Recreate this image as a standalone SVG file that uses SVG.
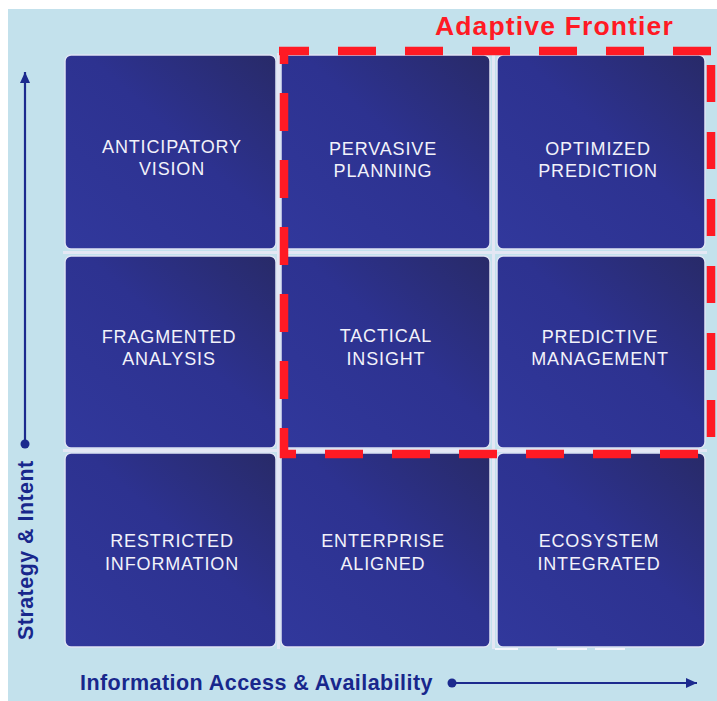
<svg xmlns="http://www.w3.org/2000/svg" width="717" height="701" viewBox="0 0 717 701">
  <defs>
    <linearGradient id="tileFill" x1="0" y1="1" x2="1" y2="0">
      <stop offset="0" stop-color="#31389c"/>
      <stop offset="0.55" stop-color="#2d3290"/>
      <stop offset="1" stop-color="#282a68"/>
    </linearGradient>
    <marker id="arrowHead" viewBox="0 0 11 10" refX="11" refY="5" markerWidth="11" markerHeight="10" markerUnits="userSpaceOnUse" orient="auto">
      <path d="M0,0 L11,5 L0,10 Z" fill="#1c2a8e"/>
    </marker>
  </defs>
  <style>
    .tile { fill: url(#tileFill); stroke: #dfe4f3; stroke-width: 1.5; }
    .label { font-family: "Liberation Sans", Arial, sans-serif; font-size: 18px; fill: #f2f2fa; text-anchor: middle; letter-spacing: 0.85px; }
    .axis-title { font-family: "Liberation Sans", Arial, sans-serif; font-weight: bold; font-size: 21.5px; fill: #18278c; letter-spacing: 0.45px; }
    .frontier-title { font-family: "Liberation Sans", Arial, sans-serif; font-weight: bold; font-size: 26.5px; fill: #ff1a24; letter-spacing: 1.15px; }
    .frontier { fill: none; stroke: #ff1a24; stroke-width: 8.5; stroke-dasharray: 38 29; }
    .gap { stroke: #e4e7f4; stroke-width: 3; }
    .rim { stroke: #f4f6fc; stroke-width: 2; }
    .axis { stroke: #1c2a8e; stroke-width: 2.2; fill: none; }
    .axis-dot { fill: #1c2a8e; }
  </style>

  <!-- page backdrop -->
  <rect x="0" y="0" width="717" height="701" fill="#ffffff"/>
  <rect x="8" y="9" width="709" height="692" fill="#c3e1ec"/>

  <!-- light seams between the tiles -->
  <g id="seams">
    <line class="gap" x1="278.5" y1="53" x2="278.5" y2="649"/>
    <line class="gap" x1="493.5" y1="53" x2="493.5" y2="649"/>
    <line class="gap" x1="63" y1="252.5" x2="707" y2="252.5"/>
    <line class="gap" x1="63" y1="450.5" x2="707" y2="450.5"/>
  </g>

  <!-- row 1 -->
  <g id="anticipatory-vision">
    <rect class="tile" x="65" y="55" width="211" height="194" rx="6"/>
    <text class="label" x="172" y="153">ANTICIPATORY</text>
    <text class="label" x="172" y="175">VISION</text>
  </g>
  <g id="pervasive-planning">
    <rect class="tile" x="281" y="55" width="209" height="194" rx="6"/>
    <text class="label" x="383" y="155">PERVASIVE</text>
    <text class="label" x="383" y="177">PLANNING</text>
  </g>
  <g id="optimized-prediction">
    <rect class="tile" x="497" y="55" width="208" height="194" rx="6"/>
    <text class="label" x="598" y="155">OPTIMIZED</text>
    <text class="label" x="598" y="177">PREDICTION</text>
  </g>

  <!-- row 2 -->
  <g id="fragmented-analysis">
    <rect class="tile" x="65" y="256" width="211" height="192" rx="6"/>
    <text class="label" x="169" y="343">FRAGMENTED</text>
    <text class="label" x="169" y="365">ANALYSIS</text>
  </g>
  <g id="tactical-insight">
    <rect class="tile" x="281" y="256" width="209" height="192" rx="6"/>
    <text class="label" x="386" y="342">TACTICAL</text>
    <text class="label" x="386" y="365">INSIGHT</text>
  </g>
  <g id="predictive-management">
    <rect class="tile" x="497" y="256" width="208" height="192" rx="6"/>
    <text class="label" x="600" y="343">PREDICTIVE</text>
    <text class="label" x="600" y="365">MANAGEMENT</text>
  </g>

  <!-- row 3 -->
  <g id="restricted-information">
    <rect class="tile" x="65" y="453" width="211" height="194" rx="6"/>
    <text class="label" x="172" y="547">RESTRICTED</text>
    <text class="label" x="172" y="570">INFORMATION</text>
  </g>
  <g id="enterprise-aligned">
    <rect class="tile" x="281" y="453" width="209" height="194" rx="6"/>
    <text class="label" x="383" y="547">ENTERPRISE</text>
    <text class="label" x="383" y="570">ALIGNED</text>
  </g>
  <g id="ecosystem-integrated">
    <rect class="tile" x="497" y="453" width="208" height="194" rx="6"/>
    <text class="label" x="599" y="547">ECOSYSTEM</text>
    <text class="label" x="599" y="570">INTEGRATED</text>
  </g>

  <!-- short light strokes under the last tile -->
  <g id="underline-marks">
    <line class="rim" x1="495" y1="649" x2="518" y2="649"/>
    <line class="rim" x1="557" y1="649" x2="587" y2="649"/>
    <line class="rim" x1="595" y1="649" x2="625" y2="649"/>
  </g>

  <!-- dashed frontier boundary -->
  <g id="adaptive-frontier">
    <line class="frontier" x1="279" y1="51" x2="715" y2="51" stroke-dashoffset="8"/>
    <line class="frontier" x1="284" y1="47" x2="284" y2="458" stroke-dashoffset="21"/>
    <line class="frontier" x1="711" y1="65" x2="711" y2="437" style="stroke-dasharray:37 30"/>
    <line class="frontier" x1="280" y1="454" x2="698" y2="454" stroke-dashoffset="22"/>
    <text class="frontier-title" x="435" y="35">Adaptive Frontier</text>
  </g>

  <!-- axes -->
  <g id="axes">
    <line class="axis" x1="25" y1="444" x2="25" y2="72" marker-end="url(#arrowHead)"/>
    <circle class="axis-dot" cx="25" cy="444" r="4.5"/>
    <line class="axis" x1="452" y1="683" x2="697" y2="683" marker-end="url(#arrowHead)"/>
    <circle class="axis-dot" cx="452" cy="683" r="4.5"/>
  </g>
  <g id="axis-titles">
    <text class="axis-title" x="80" y="690">Information Access &amp; Availability</text>
    <text class="axis-title" transform="translate(33,640) rotate(-90)">Strategy &amp; Intent</text>
  </g>
</svg>
